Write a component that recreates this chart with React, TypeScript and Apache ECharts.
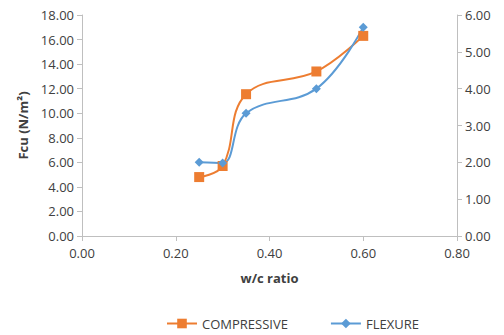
import React, { useEffect, useRef } from "react";
import * as echarts from "echarts";

const wcRatio = [0.25, 0.3, 0.35, 0.5, 0.6];
const compressive = [4.8, 5.7, 11.55, 13.4, 16.3];
const flexure = [2.0, 1.98, 3.33, 4.0, 5.67];

const font = "'Open Sans', 'Liberation Sans', sans-serif";

export default function App() {
  const ref = useRef<HTMLDivElement>(null);
  useEffect(() => {
    if (!ref.current) return;
    const chart = echarts.init(ref.current, undefined, { renderer: "svg" });
    const axisLine = { show: true, lineStyle: { color: "#bfbfbf", width: 1 } };
    const axisTick = { show: true, length: 5, lineStyle: { color: "#bfbfbf" } };
    const axisLabel = { color: "#404040", fontSize: 13, fontFamily: font, formatter: (v: number) => v.toFixed(2) };
    chart.setOption({
      animation: false,
      backgroundColor: "#ffffff",
      grid: { left: 82, right: 47, top: 15, bottom: 99 },
      legend: {
        bottom: 0,
        left: 161,
        itemGap: 42,
        itemWidth: 30,
        itemHeight: 12,
        textStyle: { color: "#404040", fontSize: 13, fontFamily: font },
        data: ["COMPRESSIVE", "FLEXURE"],
      },
      xAxis: {
        type: "value",
        min: 0,
        max: 0.8,
        interval: 0.2,
        name: "w/c ratio",
        nameLocation: "middle",
        nameGap: 35,
        nameTextStyle: { fontWeight: "bold", fontSize: 13, color: "#404040", fontFamily: font },
        axisLine,
        axisTick,
        splitLine: { show: false },
        axisLabel: { ...axisLabel, margin: 10 },
      },
      yAxis: [
        {
          type: "value",
          min: 0,
          max: 18,
          interval: 2,
          name: "Fcu (N/m²)",
          nameLocation: "middle",
          nameGap: 52,
          nameTextStyle: { fontWeight: "bold", fontSize: 13, color: "#404040", fontFamily: font },
          axisLine,
          axisTick,
          splitLine: { show: false },
          axisLabel: { ...axisLabel, margin: 8 },
        },
        {
          type: "value",
          min: 0,
          max: 6,
          interval: 1,
          position: "right",
          axisLine,
          axisTick,
          splitLine: { show: false },
          axisLabel: { ...axisLabel, margin: 8 },
        },
      ],
      series: [
        {
          name: "COMPRESSIVE",
          type: "line",
          yAxisIndex: 0,
          smooth: 0.4,
          symbol: "rect",
          symbolSize: 10,
          itemStyle: { color: "#ED7D31" },
          lineStyle: { color: "#ED7D31", width: 2 },
          data: wcRatio.map((x, i) => [x, compressive[i]]),
        },
        {
          name: "FLEXURE",
          type: "line",
          yAxisIndex: 1,
          smooth: 0.4,
          symbol: "diamond",
          symbolSize: 9,
          itemStyle: { color: "#5B9BD5" },
          lineStyle: { color: "#5B9BD5", width: 2 },
          data: wcRatio.map((x, i) => [x, flexure[i]]),
        },
      ],
    });
    return () => chart.dispose();
  }, []);
  return <div ref={ref} style={{ width: 504, height: 335, position: "absolute", left: 0, top: 0 }} />;
}
